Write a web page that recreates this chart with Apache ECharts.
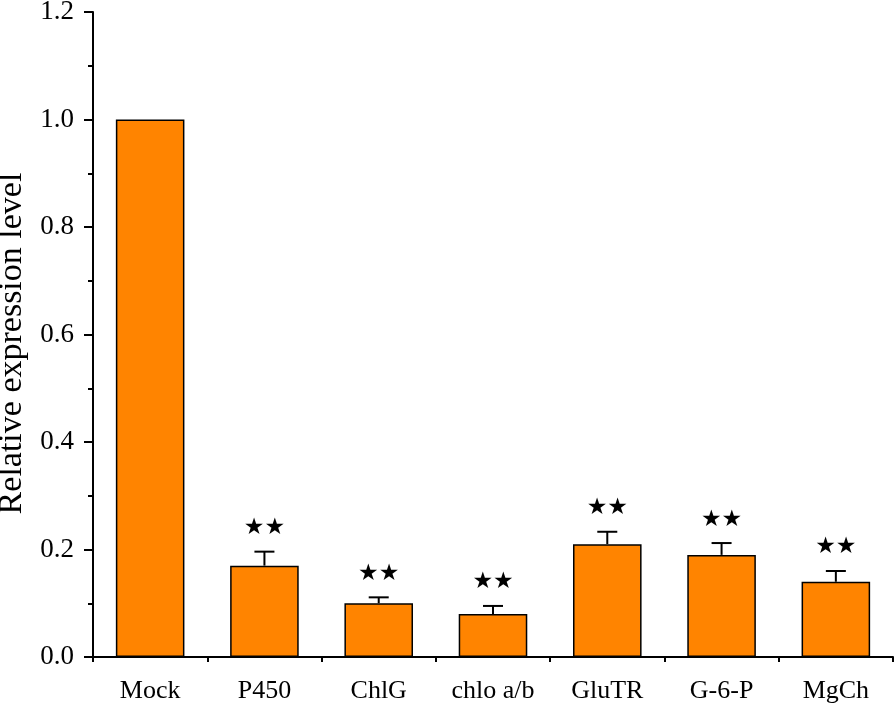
<!DOCTYPE html>
<html>
<head>
<meta charset="utf-8">
<script src="https://cdn.jsdelivr.net/npm/echarts@6/dist/echarts.min.js"></script>
<style>html,body{margin:0;padding:0;background:#fff}#c{width:896px;height:705px}</style>
</head>
<body>
<div id="c"></div>
<script>
var categories = ['Mock', 'P450', 'ChlG', 'chlo a/b', 'GluTR', 'G-6-P', 'MgCh'];
var values = [1.0, 0.17, 0.10, 0.08, 0.21, 0.19, 0.14];
var errors = [0, 0.026, 0.011, 0.015, 0.023, 0.022, 0.02];
var marks = ['', '★★', '★★', '★★', '★★', '★★', '★★'];
var yTicks = [0, 0.2, 0.4, 0.6, 0.8, 1.0, 1.2];

var font = '"Liberation Serif", "Times New Roman", serif';
var chart = echarts.init(document.getElementById('c'), null, {renderer: 'canvas'});
var errData = values.map(function (v, i) { return [i, v, errors[i]]; });

chart.setOption({
  animation: false,
  grid: {left: 93, right: 3, top: 12, bottom: 48, containLabel: false, outerBoundsMode: 'none'},
  xAxis: [{
    type: 'category', data: categories, position: 'bottom',
    axisLine: {lineStyle: {color: '#000', width: 2}},
    axisTick: {alignWithLabel: true, length: 8, lineStyle: {color: '#000', width: 2}},
    axisLabel: {color: '#000', fontFamily: font, fontSize: 26, margin: 21}
  }, {
    type: 'category', data: categories, position: 'bottom',
    axisLine: {show: false},
    axisTick: {show: true, length: 5, lineStyle: {color: '#000', width: 2}},
    axisLabel: {show: false}
  }],
  yAxis: {
    type: 'value', min: 0, max: 1.2, interval: 0.2,
    name: 'Relative expression level', nameLocation: 'middle', nameGap: 58,
    nameTextStyle: {color: '#000', fontFamily: font, fontSize: 34, padding: [0, 18, 0, 0]},
    axisLine: {show: true, lineStyle: {color: '#000', width: 2}},
    axisTick: {show: true, length: 9, lineStyle: {color: '#000', width: 2}},
    minorTick: {show: true, splitNumber: 2, length: 5, lineStyle: {color: '#000', width: 2}},
    splitLine: {show: false},
    axisLabel: {color: '#000', fontFamily: font, fontSize: 27, margin: 19,
      formatter: function (v) { return v.toFixed(1); }}
  },
  series: [{
    type: 'bar', data: values, barWidth: '60%', xAxisIndex: 0,
    itemStyle: {color: '#FF8400', borderColor: '#000', borderWidth: 1.5}
  }, {
    type: 'custom', data: errData, xAxisIndex: 0, z: 5,
    renderItem: function (params, api) {
      var i = api.value(0), v = api.value(1), e = api.value(2);
      var base = api.coord([i, v]);
      var top = api.coord([i, v + e]);
      var children = [];
      if (e > 0) {
        children.push({type: 'line', shape: {x1: base[0], y1: base[1], x2: top[0], y2: top[1]},
          style: {stroke: '#000', lineWidth: 2}});
        children.push({type: 'line', shape: {x1: top[0] - 10, y1: top[1], x2: top[0] + 10, y2: top[1]},
          style: {stroke: '#000', lineWidth: 2}});
      }
      var m = marks[i];
      if (m) {
        children.push({type: 'text', x: top[0], y: top[1] - 12,
          style: {text: m, fill: '#000', font: '23px "DejaVu Sans", sans-serif', align: 'center', verticalAlign: 'bottom'}});
      }
      return {type: 'group', children: children};
    }
  }]
});
</script>
</body>
</html>
